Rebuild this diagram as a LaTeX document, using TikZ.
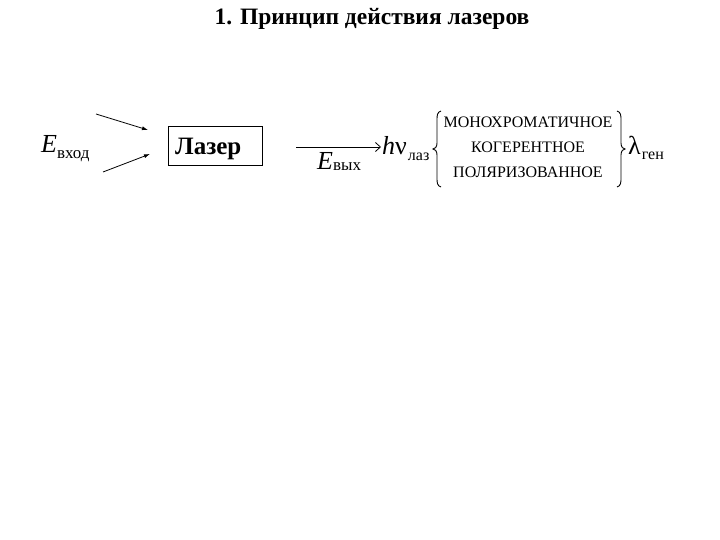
\documentclass[tikz,border=0pt]{standalone}
\usepackage{fontspec}
\setmainfont{Liberation Serif}
\usetikzlibrary{arrows.meta}
\tikzset{
  lbl/.style={inner sep=0pt, anchor=base west},
  arr/.style={-{Latex[length=6pt,width=4pt]}, line width=0.8pt},
  barb/.style={-{Straight Barb[length=5pt,width=9pt]}, line width=0.8pt},
  caps/.style={inner sep=0pt, font=\fontsize{16}{16}\selectfont},
  bracepath/.style={line width=0.9pt}
}
\begin{document}
\begin{tikzpicture}[x=1pt,y=-1pt]
\useasboundingbox (0,0) rectangle (720,540);
% title
\node[inner sep=0pt, font=\fontsize{23.5}{23.5}\bfseries\selectfont] (title) at (372,19) {1. Принцип действия лазеров};
% laser box
\node[draw, line width=0.8pt, minimum width=94pt, minimum height=39pt, inner sep=0pt, anchor=north west] (laser) at (168,126) {};
\node[lbl, font=\fontsize{25}{25}\bfseries\selectfont] (laserlbl) at (175,155) {Лазер};
% E input
\node[lbl, font=\fontsize{26}{26}\selectfont] (ein) at (41,153) {\textit{E}\raisebox{-6pt}{\fontsize{17}{17}\selectfont вход}};
\coordinate (a1s) at (96,114);
\coordinate (a1e) at (148,130);
\coordinate (a2s) at (103,172);
\coordinate (a2e) at (150,154);
\draw[arr] (a1s) -- (a1e);
\draw[arr] (a2s) -- (a2e);
% output arrow
\coordinate (os) at (296,147);
\node[lbl, font=\fontsize{26}{26}\selectfont] (hnu) at (382,155) {\textit{h}ν\raisebox{-6pt}{\fontsize{16}{16}\selectfont\hspace{1pt}лаз}};
\draw[barb] (os) -- ([xshift=-1pt]hnu.west |- os);
\node[lbl, font=\fontsize{26}{26}\selectfont] (eout) at (317,170) {\textit{E}\raisebox{-1pt}{\fontsize{17}{17}\selectfont вых}};
% braces
\draw[bracepath] (441,111) .. controls (437,112) and (437,116) .. (437,120) -- (437,143)
   .. controls (437,147) and (435,149) .. (433,149)
   .. controls (435,149) and (437,151) .. (437,155) -- (437,178)
   .. controls (437,182) and (437,186) .. (441,187);
\draw[bracepath] (617,111) .. controls (621,112) and (621,116) .. (621,120) -- (621,143)
   .. controls (621,147) and (623,149) .. (625,149)
   .. controls (623,149) and (621,151) .. (621,155) -- (621,178)
   .. controls (621,182) and (621,186) .. (617,187);
\node[caps] (m1) at (528,122) {МОНОХРОМАТИЧНОЕ};
\node[caps] (m2) at (528,147) {КОГЕРЕНТНОЕ};
\node[caps] (m3) at (528,172) {ПОЛЯРИЗОВАННОЕ};
\node[lbl, font=\fontsize{26}{26}\selectfont] (lam) at (628,155) {λ\raisebox{-5pt}{\fontsize{16}{16}\selectfont\hspace{1pt}ген}};
\end{tikzpicture}
\end{document}
